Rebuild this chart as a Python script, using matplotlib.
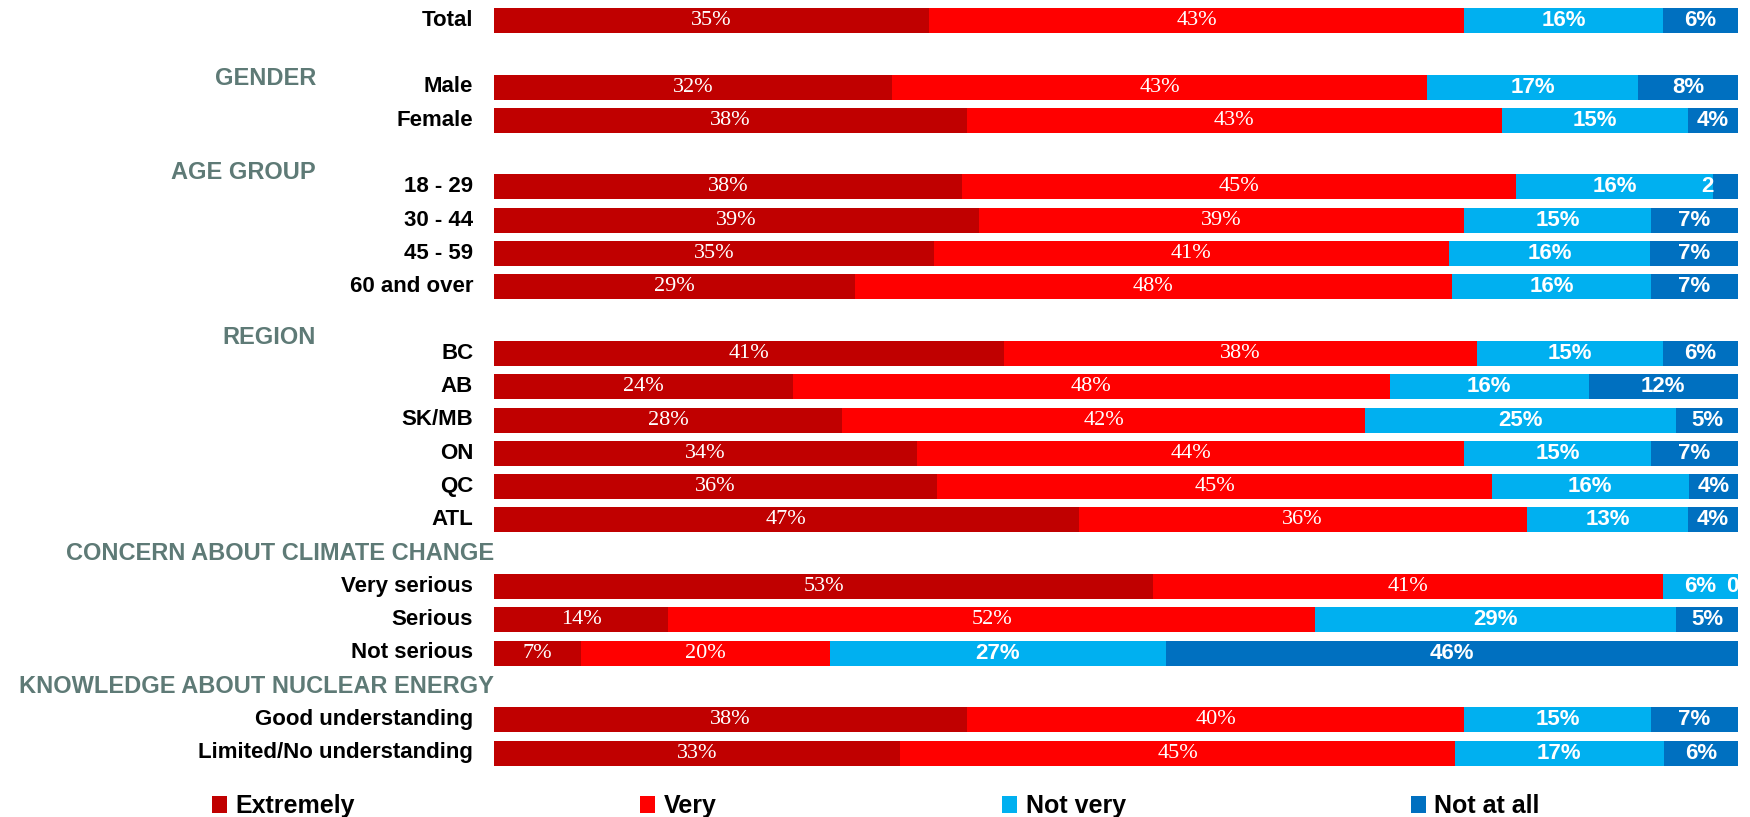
import matplotlib
matplotlib.use('Agg')
import matplotlib.pyplot as plt
import numpy as np
from matplotlib.patches import Patch

# group headers and their rows
group_names = [None, 'GENDER', 'AGE GROUP', 'REGION',
               'CONCERN ABOUT CLIMATE CHANGE', 'KNOWLEDGE ABOUT NUCLEAR ENERGY']
group_rows = [
    ['Total'],
    ['Male', 'Female'],
    ['18 - 29', '30 - 44', '45 - 59', '60 and over'],
    ['BC', 'AB', 'SK/MB', 'ON', 'QC', 'ATL'],
    ['Very serious', 'Serious', 'Not serious'],
    ['Good understanding', 'Limited/No understanding'],
]

series_names = ['Extremely', 'Very', 'Not very', 'Not at all']
extremely = [35, 32, 38, 38, 39, 35, 29, 41, 24, 28, 34, 36, 47, 53, 14, 7, 38, 33]
very = [43, 43, 43, 45, 39, 41, 48, 38, 48, 42, 44, 45, 36, 41, 52, 20, 40, 45]
not_very = [16, 17, 15, 16, 15, 16, 16, 15, 16, 25, 15, 16, 13, 6, 29, 27, 15, 17]
not_at_all = [6, 8, 4, 2, 7, 7, 7, 6, 12, 5, 7, 4, 4, 0, 5, 46, 7, 6]

colors = ['#C00000', '#FF0000', '#00B0F0', '#0070C0']
header_color = '#5E7A76'

# layout: header offset from first row slot, header x (axes fraction)
header_layout = {
    'GENDER': (-0.27, -0.143),
    'AGE GROUP': (-0.42, -0.143),
    'REGION': (-0.47, -0.143),
    'CONCERN ABOUT CLIMATE CHANGE': (-1.0, 0.0),
    'KNOWLEDGE ABOUT NUCLEAR ENERGY': (-1.0, 0.0),
}

# slot positions: one blank slot between groups
labels, ypos, headers = [], [], []
slot = 0
for name, rows in zip(group_names, group_rows):
    if name is not None:
        headers.append((name, slot))
    for r in rows:
        labels.append(r)
        ypos.append(slot)
        slot += 1
    slot += 1
ypos = np.array(ypos)

data = np.array([extremely, very, not_very, not_at_all], dtype=float)
shares = data / data.sum(axis=0) * 100

fig = plt.figure(figsize=(17.5, 8.17), dpi=100)
W, H = 1750, 817
ax = fig.add_axes([494 / W, 4 / H, 1244 / W, 812.5 / H])

left = np.zeros(len(labels))
for i, (name, col) in enumerate(zip(series_names, colors)):
    ax.barh(ypos, shares[i], left=left, height=0.75, color=col, label=name)
    for y, l, w, v in zip(ypos, left, shares[i], data[i]):
        v = int(v)
        if i < 2:
            kw = dict(family='Liberation Serif', fontsize=16, color='white')
        else:
            kw = dict(family='Liberation Sans', fontsize=16, color='white',
                      fontweight='bold')
        if w < 3:
            ax.text(l + 0.05, y, str(v), ha='right', va='center', **kw)
        else:
            ax.text(l + w / 2, y, f'{v}%', ha='center', va='center', **kw)
    left += shares[i]

ax.set_xlim(0, 100)
ax.set_ylim(23.8, -0.6)
ax.set_yticks(ypos - 0.08)
ax.set_yticklabels(labels, family='Liberation Sans', fontweight='bold', fontsize=16)
ax.tick_params(axis='y', length=0, pad=15)
ax.set_xticks([])
for s in ax.spines.values():
    s.set_visible(False)

for name, first in headers:
    dy, hx = header_layout[name]
    ax.text(hx, first + dy, name, transform=ax.get_yaxis_transform(),
            ha='right', va='center', color=header_color,
            family='Liberation Sans', fontweight='bold', fontsize=17)

handles = [Patch(facecolor=c, edgecolor='none') for c in colors]
fig.legend(handles, series_names, loc='center left',
           bbox_to_anchor=(212 / W, 11 / H), ncol=4, frameon=False,
           prop={'family': 'Liberation Sans', 'weight': 'bold', 'size': 18},
           handlelength=0.6, handleheight=0.7, handletextpad=0.35,
           columnspacing=11.4, borderpad=0, borderaxespad=0)

fig.savefig('out.png', dpi=100)
